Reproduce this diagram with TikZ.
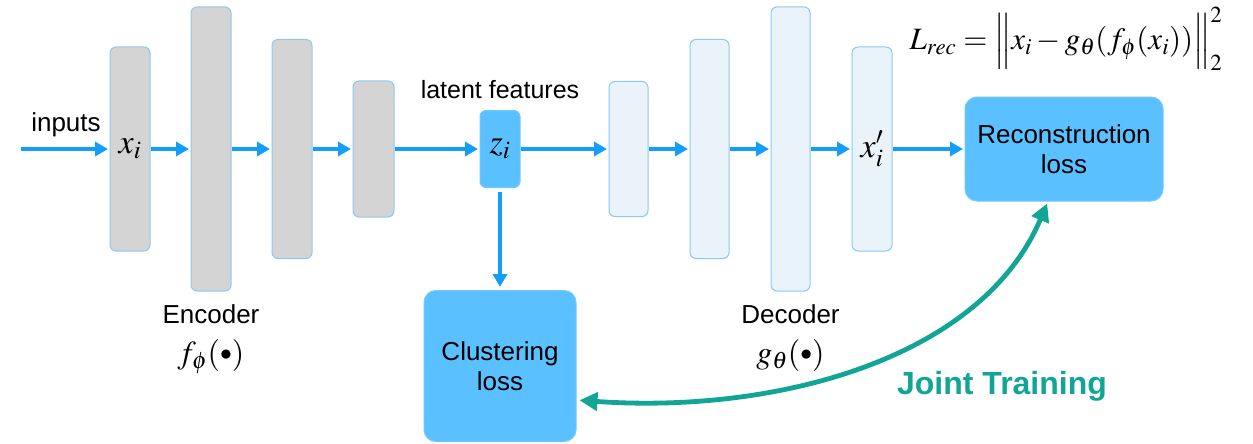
\documentclass[tikz,border=0pt]{standalone}
\usepackage{mathptmx}
\usepackage[no-math]{fontspec}
\setmainfont{Liberation Sans}
\usetikzlibrary{arrows.meta, positioning}
\definecolor{flowblue}{RGB}{20,158,250}
\definecolor{layerline}{RGB}{140,200,245}
\definecolor{encgray}{RGB}{212,212,212}
\definecolor{decblue}{RGB}{234,243,250}
\definecolor{lossblue}{RGB}{90,192,255}
\definecolor{jointteal}{RGB}{18,165,150}
\newcommand{\mathsz}{\fontsize{34}{40}\selectfont}
\newcommand{\argdot}{\vcenter{\hbox{$\scriptstyle\bullet$}}}
\tikzstyle{layer}=[rectangle, rounded corners=6pt, draw=layerline, line width=1pt, minimum width=40pt, inner sep=0pt, font=\mathsz]
\tikzstyle{enc}=[layer, fill=encgray]
\tikzstyle{dec}=[layer, fill=decblue]
\tikzstyle{loss}=[rectangle, rounded corners=12pt, draw=lossblue!85!white, fill=lossblue, line width=1pt, align=center, font=\fontsize{26}{30}\selectfont]
\tikzstyle{flow}=[->, draw=flowblue, line width=3.4pt, shorten >=1.5pt]
\tikzstyle{joint}=[{Triangle[length=18pt,width=18pt]}-{Triangle[length=18pt,width=18pt]}, draw=jointteal, line width=4.8pt, shorten <=3pt, shorten >=2pt]
\tikzstyle{lbl}=[inner sep=0pt, font=\fontsize{26}{30}\selectfont]
\tikzstyle{mathlbl}=[inner sep=0pt, font=\fontsize{32}{38}\selectfont]

\begin{document}
\begin{tikzpicture}[x=1pt, y=-1pt, >={Triangle[length=13pt,width=14pt]}, node distance=12pt]
    \useasboundingbox (0,0) rectangle (1253,444);

    % encoder
    \coordinate (in) at (21,149);
    \node[lbl] (inputs) at (66,125) {inputs};
    \node[enc, minimum height=204pt] (e1) at (130,149) {$x_i$};
    \node[enc, minimum height=284pt] (e2) at (211,149) {};
    \node[enc, minimum height=219pt] (e3) at (292,149) {};
    \node[enc, minimum height=136pt, minimum width=41pt] (e4) at (373.5,149) {};
    \node[lbl] (enclbl) [below=13pt of e2] {Encoder};
    \node[mathlbl] (encfn) [below=15pt of enclbl] {$f_\phi(\argdot)$};

    % latent
    \node[layer, draw=lossblue!85!white, fill=lossblue, minimum height=77pt] (z) at (500,149) {$z_i$};
    \node[lbl, font=\fontsize{25}{30}\selectfont] (latent) [above=11pt of z] {latent features};
    \node[loss, minimum width=152pt, minimum height=151pt] (clust) at (500,366) {Clustering\\loss};

    % decoder
    \node[dec, minimum height=135pt, minimum width=39pt] (d1) at (628.5,149) {};
    \node[dec, minimum height=219pt, minimum width=39pt] (d2) at (709.5,149) {};
    \node[dec, minimum height=284pt, minimum width=39pt] (d3) at (790.5,149) {};
    \node[dec, minimum height=204pt] (d4) at (872,149) {$x'_i$};
    \node[lbl] (declbl) [below=13pt of d3] {Decoder};
    \node[mathlbl] (decfn) [below=15pt of declbl] {$g_\theta(\argdot)$};

    \node[loss, minimum width=198pt, minimum height=104pt] (recon) at (1064,149) {Reconstruction\\loss};
    \node[inner sep=0pt, font=\fontsize{31}{36}\selectfont] (lrec) at (1066,39) {$L_{rec} = \Big\| x_i - g_\theta(f_\phi(x_i)) \Big\|_2^2$};
    \node[lbl, font=\fontsize{32}{36}\selectfont\bfseries, text=jointteal] (jt) at (1002,386) {Joint Training};

    % connectors
    \draw[flow] (in) -- (e1.west);
    \draw[flow] (e1.east) -- (e2.west);
    \draw[flow] (e2.east) -- (e3.west);
    \draw[flow] (e3.east) -- (e4.west);
    \draw[flow] (e4.east) -- (z.west);
    \draw[flow] (z.east) -- (d1.west);
    \draw[flow] (d1.east) -- (d2.west);
    \draw[flow] (d2.east) -- (d3.west);
    \draw[flow] (d3.east) -- (d4.west);
    \draw[flow] (d4.east) -- (recon.west);
    \draw[flow, shorten <=4pt, shorten >=3pt] (z.south) -- (clust.north);
    \draw[joint] (clust.-24) .. controls +(-4:200pt) and +(247:171pt) .. (recon.253);
\end{tikzpicture}
\end{document}
